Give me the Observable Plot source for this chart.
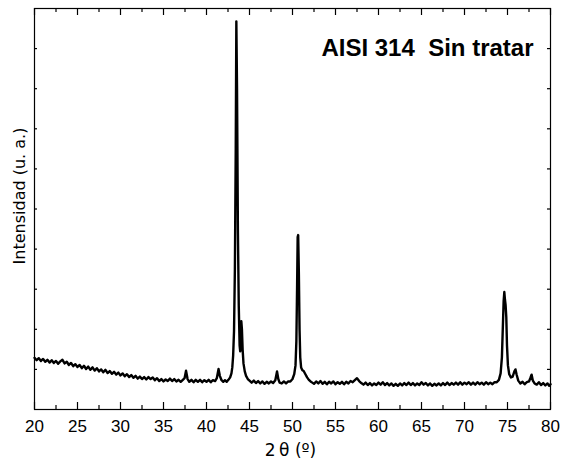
<!DOCTYPE html>
<html><head><meta charset="utf-8">
<script src="https://cdn.jsdelivr.net/npm/d3@7"></script>
<script src="https://cdn.jsdelivr.net/npm/@observablehq/plot@0.6"></script>
<style>body{margin:0;background:#fff}</style>
</head><body><div id="chart"></div>
<script>
const twoTheta = [
  20.00,20.25,20.50,20.75,21.00,21.25,21.50,21.75,22.00,22.25,
  22.50,22.75,23.00,23.25,23.50,23.75,24.00,24.25,24.50,24.75,
  25.00,25.25,25.50,25.75,26.00,26.25,26.50,26.75,27.00,27.25,
  27.50,27.75,28.00,28.25,28.50,28.75,29.00,29.25,29.50,29.75,
  30.00,30.25,30.50,30.75,31.00,31.25,31.50,31.75,32.00,32.25,
  32.50,32.75,33.00,33.25,33.50,33.75,34.00,34.25,34.50,34.75,
  35.00,35.25,35.50,35.75,36.00,36.25,36.50,36.75,37.00,37.25,
  37.45,37.62,37.80,38.00,38.25,38.50,38.75,39.00,39.25,39.50,
  39.75,40.00,40.25,40.50,40.75,41.00,41.20,41.40,41.55,41.75,
  41.95,42.15,42.35,42.55,42.75,42.90,43.00,43.10,43.20,43.30,
  43.40,43.47,43.55,43.65,43.75,43.85,43.92,44.00,44.05,44.12,
  44.20,44.30,44.45,44.60,44.80,45.00,45.25,45.50,45.75,46.00,
  46.25,46.50,46.75,47.00,47.25,47.50,47.75,48.00,48.20,48.35,
  48.50,48.75,49.00,49.25,49.50,49.75,50.00,50.20,50.35,50.45,
  50.53,50.60,50.66,50.74,50.82,50.90,51.00,51.15,51.30,51.50,
  51.70,51.90,52.10,52.30,52.50,52.75,53.00,53.25,53.50,53.75,
  54.00,54.25,54.50,54.75,55.00,55.25,55.50,55.75,56.00,56.25,
  56.50,56.75,57.00,57.25,57.50,57.75,58.00,58.25,58.50,58.75,
  59.00,59.25,59.50,59.75,60.00,60.25,60.50,60.75,61.00,61.25,
  61.50,61.75,62.00,62.25,62.50,62.75,63.00,63.25,63.50,63.75,
  64.00,64.25,64.50,64.75,65.00,65.25,65.50,65.75,66.00,66.25,
  66.50,66.75,67.00,67.25,67.50,67.75,68.00,68.25,68.50,68.75,
  69.00,69.25,69.50,69.75,70.00,70.25,70.50,70.75,71.00,71.25,
  71.50,71.75,72.00,72.25,72.50,72.75,73.00,73.25,73.50,73.75,
  74.00,74.20,74.35,74.45,74.55,74.63,74.70,74.78,74.86,74.94,
  75.05,75.20,75.40,75.60,75.80,75.93,76.05,76.25,76.50,76.75,
  77.00,77.25,77.50,77.65,77.80,77.95,78.15,78.40,78.65,78.90,
  79.15,79.40,79.65,79.85,80.00
];
const intensity = [
  1.29,1.23,1.28,1.21,1.26,1.19,1.24,1.17,1.23,1.16,
  1.21,1.14,1.20,1.24,1.15,1.19,1.11,1.16,1.08,1.13,
  1.06,1.11,1.03,1.09,1.01,1.07,0.99,1.05,0.97,1.03,
  0.95,1.00,0.93,0.99,0.91,0.96,0.89,0.94,0.87,0.92,
  0.85,0.90,0.83,0.88,0.81,0.86,0.79,0.84,0.77,0.82,
  0.76,0.81,0.75,0.81,0.76,0.80,0.73,0.78,0.71,0.76,
  0.70,0.75,0.71,0.77,0.71,0.76,0.70,0.74,0.69,0.74,
  0.78,0.97,0.76,0.69,0.74,0.68,0.74,0.69,0.74,0.68,
  0.73,0.69,0.74,0.68,0.73,0.71,0.78,1.01,0.84,0.73,
  0.69,0.73,0.69,0.74,0.80,0.90,1.05,1.35,1.95,3.50,
  6.50,9.68,8.00,4.50,2.60,1.60,1.45,1.90,2.20,2.00,
  1.50,1.15,0.95,0.84,0.76,0.72,0.67,0.72,0.66,0.71,
  0.65,0.70,0.64,0.69,0.65,0.70,0.66,0.73,0.95,0.76,
  0.67,0.65,0.70,0.65,0.70,0.70,0.76,0.88,1.10,1.70,
  3.00,4.30,4.35,3.40,2.00,1.30,1.05,0.98,0.96,0.88,
  0.80,0.74,0.70,0.67,0.64,0.70,0.65,0.71,0.64,0.69,
  0.63,0.69,0.65,0.70,0.63,0.68,0.64,0.69,0.63,0.69,
  0.65,0.71,0.68,0.73,0.78,0.71,0.66,0.62,0.67,0.61,
  0.66,0.60,0.65,0.61,0.67,0.62,0.68,0.61,0.66,0.60,
  0.65,0.59,0.64,0.59,0.65,0.60,0.66,0.61,0.67,0.61,
  0.66,0.60,0.65,0.61,0.68,0.62,0.66,0.60,0.65,0.59,
  0.64,0.60,0.65,0.60,0.66,0.61,0.67,0.61,0.66,0.62,
  0.67,0.62,0.68,0.62,0.67,0.63,0.68,0.62,0.67,0.62,
  0.68,0.63,0.67,0.62,0.68,0.63,0.67,0.63,0.68,0.68,
  0.74,0.90,1.30,2.00,2.70,2.93,2.75,2.60,2.30,1.60,
  1.10,0.88,0.80,0.82,0.95,1.00,0.88,0.72,0.65,0.69,
  0.63,0.68,0.70,0.78,0.87,0.72,0.65,0.62,0.68,0.61,
  0.66,0.60,0.65,0.59,0.63
];
const xMajorTicks = [20, 25, 30, 35, 40, 45, 50, 55, 60, 65, 70, 75, 80];
const xMinorTicks = [22.5, 27.5, 32.5, 37.5, 42.5, 47.5, 52.5, 57.5, 62.5, 67.5, 72.5, 77.5];
const yTicks = [1, 2, 3, 4, 5, 6, 7, 8, 9];
const xDomain = [20, 80];
const yDomain = [0, 10];
const titleText = "AISI 314  Sin tratar";
const xLabel = "2\u2009\u03b8 (\u00ba)";
const yLabel = "Intensidad (u. a.)";

const scan = twoTheta.map((x, i) => ({x, y: intensity[i]}));
const [yMin, yMax] = yDomain;
const [xMin, xMax] = xDomain;

const chart = Plot.plot({
  width: 561, height: 466,
  marginLeft: 34, marginRight: 11, marginTop: 8, marginBottom: 57,
  style: {background: "white", overflow: "visible"},
  x: {domain: xDomain, axis: null},
  y: {domain: yDomain, axis: null},
  marks: [
    Plot.line(scan, {x: "x", y: "y", stroke: "black", strokeWidth: 2.4, strokeLinejoin: "round"}),
    Plot.frame({stroke: "black", strokeWidth: 1.2}),
    Plot.ruleX(xMajorTicks, {x: d => d, y1: yMin, y2: yMin, insetTop: -7, stroke: "black", strokeWidth: 1.2}),
    Plot.ruleX(xMinorTicks, {x: d => d, y1: yMin, y2: yMin, insetTop: -4, stroke: "black", strokeWidth: 1.2}),
    Plot.ruleX(xMajorTicks, {x: d => d, y1: yMax, y2: yMax, insetBottom: -7, stroke: "black", strokeWidth: 1.2}),
    Plot.ruleX(xMinorTicks, {x: d => d, y1: yMax, y2: yMax, insetBottom: -4, stroke: "black", strokeWidth: 1.2}),
    Plot.ruleY(yTicks, {y: d => d, x1: xMin, x2: xMin, insetRight: -3, stroke: "black", strokeWidth: 1.2}),
    Plot.ruleY(yTicks, {y: d => d, x1: xMax, x2: xMax, insetLeft: -3, stroke: "black", strokeWidth: 1.2}),
    Plot.axisX(xMajorTicks, {tickSize: 0, tickPadding: 10, fontSize: 17, fontFamily: "'Liberation Sans Narrow', 'Liberation Sans', Arial, sans-serif", label: null, tickFormat: d => String(d)}),
    Plot.text([xLabel], {frameAnchor: "bottom", dy: 34, lineAnchor: "top", textAnchor: "middle", fontSize: 17, fontFamily: "'DejaVu Sans', sans-serif", fill: "black", dx: -2}),
    Plot.text([yLabel], {frameAnchor: "left", rotate: -90, dx: -15, dy: -13, lineAnchor: "middle", textAnchor: "middle", fontSize: 16, fontFamily: "'DejaVu Sans', sans-serif", fill: "black"}),
    Plot.text([titleText], {frameAnchor: "top-right", dx: -17, dy: 30, lineAnchor: "top", textAnchor: "end", fontSize: 24, fontWeight: "bold", fontFamily: "'Liberation Sans', Arial, sans-serif", fill: "black"})
  ]
});
document.getElementById("chart").appendChild(chart);
</script>
</body></html>
